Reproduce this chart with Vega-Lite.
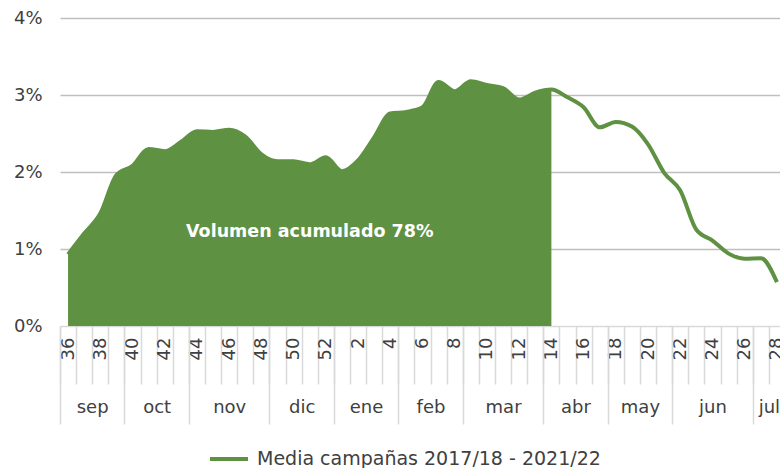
{
  "$schema": "https://vega.github.io/schema/vega-lite/v6.json",
  "width": 720,
  "height": 308,
  "autosize": "none",
  "padding": {"left": 60, "top": 18, "right": 0, "bottom": 142},
  "config": {"view": {"stroke": null}, "font": "DejaVu Sans"},
  "datasets": {
    "serie": [
      {"semana": "36", "valor": 0.93, "acumulado": 1},
      {"semana": "37", "valor": 1.20, "acumulado": 1},
      {"semana": "38", "valor": 1.46, "acumulado": 1},
      {"semana": "39", "valor": 1.96, "acumulado": 1},
      {"semana": "40", "valor": 2.08, "acumulado": 1},
      {"semana": "41", "valor": 2.30, "acumulado": 1},
      {"semana": "42", "valor": 2.27, "acumulado": 1},
      {"semana": "43", "valor": 2.39, "acumulado": 1},
      {"semana": "44", "valor": 2.53, "acumulado": 1},
      {"semana": "45", "valor": 2.52, "acumulado": 1},
      {"semana": "46", "valor": 2.55, "acumulado": 1},
      {"semana": "47", "valor": 2.46, "acumulado": 1},
      {"semana": "48", "valor": 2.23, "acumulado": 1},
      {"semana": "49", "valor": 2.14, "acumulado": 1},
      {"semana": "50", "valor": 2.14, "acumulado": 1},
      {"semana": "51", "valor": 2.10, "acumulado": 1},
      {"semana": "52", "valor": 2.19, "acumulado": 1},
      {"semana": "1", "valor": 2.01, "acumulado": 1},
      {"semana": "2", "valor": 2.15, "acumulado": 1},
      {"semana": "3", "valor": 2.45, "acumulado": 1},
      {"semana": "4", "valor": 2.76, "acumulado": 1},
      {"semana": "5", "valor": 2.78, "acumulado": 1},
      {"semana": "6", "valor": 2.84, "acumulado": 1},
      {"semana": "7", "valor": 3.17, "acumulado": 1},
      {"semana": "8", "valor": 3.05, "acumulado": 1},
      {"semana": "9", "valor": 3.18, "acumulado": 1},
      {"semana": "10", "valor": 3.13, "acumulado": 1},
      {"semana": "11", "valor": 3.09, "acumulado": 1},
      {"semana": "12", "valor": 2.94, "acumulado": 1},
      {"semana": "13", "valor": 3.03, "acumulado": 1},
      {"semana": "14", "valor": 3.07, "acumulado": 1},
      {"semana": "15", "valor": 2.97, "acumulado": 0},
      {"semana": "16", "valor": 2.84, "acumulado": 0},
      {"semana": "17", "valor": 2.58, "acumulado": 0},
      {"semana": "18", "valor": 2.65, "acumulado": 0},
      {"semana": "19", "valor": 2.59, "acumulado": 0},
      {"semana": "20", "valor": 2.36, "acumulado": 0},
      {"semana": "21", "valor": 1.99, "acumulado": 0},
      {"semana": "22", "valor": 1.76, "acumulado": 0},
      {"semana": "23", "valor": 1.25, "acumulado": 0},
      {"semana": "24", "valor": 1.11, "acumulado": 0},
      {"semana": "25", "valor": 0.94, "acumulado": 0},
      {"semana": "26", "valor": 0.875, "acumulado": 0},
      {"semana": "27", "valor": 0.88, "acumulado": 0},
      {"semana": "28", "valor": 0.57, "acumulado": 0}
    ],
    "nota": [
      {"texto": "Volumen acumulado 78%", "semana": "51", "valor": 1.22}
    ]
  },
  "layer": [
    {
      "data": {"name": "serie"},
      "transform": [{"filter": "datum.acumulado == 1"}],
      "mark": {"type": "area", "interpolate": "monotone", "color": "#5E9242", "opacity": 1},
      "encoding": {
        "x": {
          "field": "semana",
          "type": "ordinal",
          "scale": {
            "type": "band",
            "domain": ["36","37","38","39","40","41","42","43","44","45","46","47","48","49","50","51","52","1","2","3","4","5","6","7","8","9","10","11","12","13","14","15","16","17","18","19","20","21","22","23","24","25","26","27","28"],
            "range": [0, 725],
            "paddingInner": 0,
            "paddingOuter": 0
          },
          "axis": {
            "orient": "bottom",
            "title": null,
            "domain": false,
            "grid": false,
            "labelAngle": -90,
            "labelExpr": "toNumber(datum.value) % 2 == 0 ? datum.value : ''",
            "labelFontSize": 18,
            "labelColor": "#404040",
            "labelOverlap": false,
            "labelBound": false,
            "ticks": true,
            "tickBand": "extent",
            "tickSize": 58,
            "tickColor": "#d9d9d9",
            "tickWidth": 1.5,
            "labelPadding": -47
          }
        },
        "y": {
          "field": "valor",
          "type": "quantitative",
          "scale": {"domain": [0, 4], "nice": false},
          "axis": {
            "title": null,
            "values": [0, 1, 2, 3, 4],
            "labelExpr": "datum.value + '%'",
            "grid": true,
            "gridColor": {"condition": {"test": "datum.value == 0", "value": "#d9d9d9"}, "value": "#bfbfbf"},
            "gridWidth": 1.5,
            "domain": false,
            "ticks": false,
            "labelPadding": 18,
            "labelFontSize": 18,
            "labelColor": "#404040"
          }
        }
      }
    },
    {
      "data": {"name": "serie"},
      "mark": {"type": "line", "interpolate": "monotone", "strokeWidth": 4},
      "encoding": {
        "x": {
          "field": "semana",
          "type": "ordinal",
          "axis": {
            "orient": "bottom",
            "title": null,
            "domain": false,
            "grid": false,
            "labelAngle": 0,
            "labelExpr": "datum.value == '37' ? 'sep' : datum.value == '41' ? 'oct' : datum.value == '46' ? 'nov' : datum.value == '50' ? 'dic' : datum.value == '2' ? 'ene' : datum.value == '6' ? 'feb' : datum.value == '11' ? 'mar' : datum.value == '15' ? 'abr' : datum.value == '19' ? 'may' : datum.value == '24' ? 'jun' : datum.value == '27' ? 'jul' : ''",
            "labelOffset": {"condition": {"test": "indexof(['46','11','24'], datum.value) >= 0", "value": 0}, "value": 8},
            "labelFontSize": 18,
            "labelColor": "#404040",
            "labelOverlap": false,
            "labelBound": false,
            "ticks": true,
            "tickBand": "extent",
            "tickSize": 98,
            "tickWidth": 1.5,
            "tickColor": {"condition": {"test": "datum.extra || indexof(['39','43','48','52','4','8','13','17','21','26'], datum.value) >= 0", "value": "#d9d9d9"}, "value": "transparent"},
            "labelPadding": -26
          }
        },
        "y": {"field": "valor", "type": "quantitative"},
        "stroke": {
          "datum": "Media campañas 2017/18 - 2021/22",
          "type": "nominal",
          "scale": {"range": ["#5E9242"]},
          "legend": {
            "orient": "none",
            "legendX": 148,
            "legendY": 420,
            "title": null,
            "symbolType": "stroke",
            "symbolStrokeWidth": 4,
            "symbolSize": 1444,
            "labelOffset": 7,
            "labelFontSize": 19,
            "labelColor": "#404040",
            "labelLimit": 500
          }
        }
      }
    },
    {
      "data": {"name": "nota"},
      "mark": {"type": "text", "color": "white", "fontWeight": "bold", "fontSize": 17.5},
      "encoding": {
        "x": {"field": "semana", "type": "ordinal", "axis": null},
        "y": {"field": "valor", "type": "quantitative"},
        "text": {"field": "texto"}
      }
    }
  ],
  "resolve": {"axis": {"x": "independent"}}
}
